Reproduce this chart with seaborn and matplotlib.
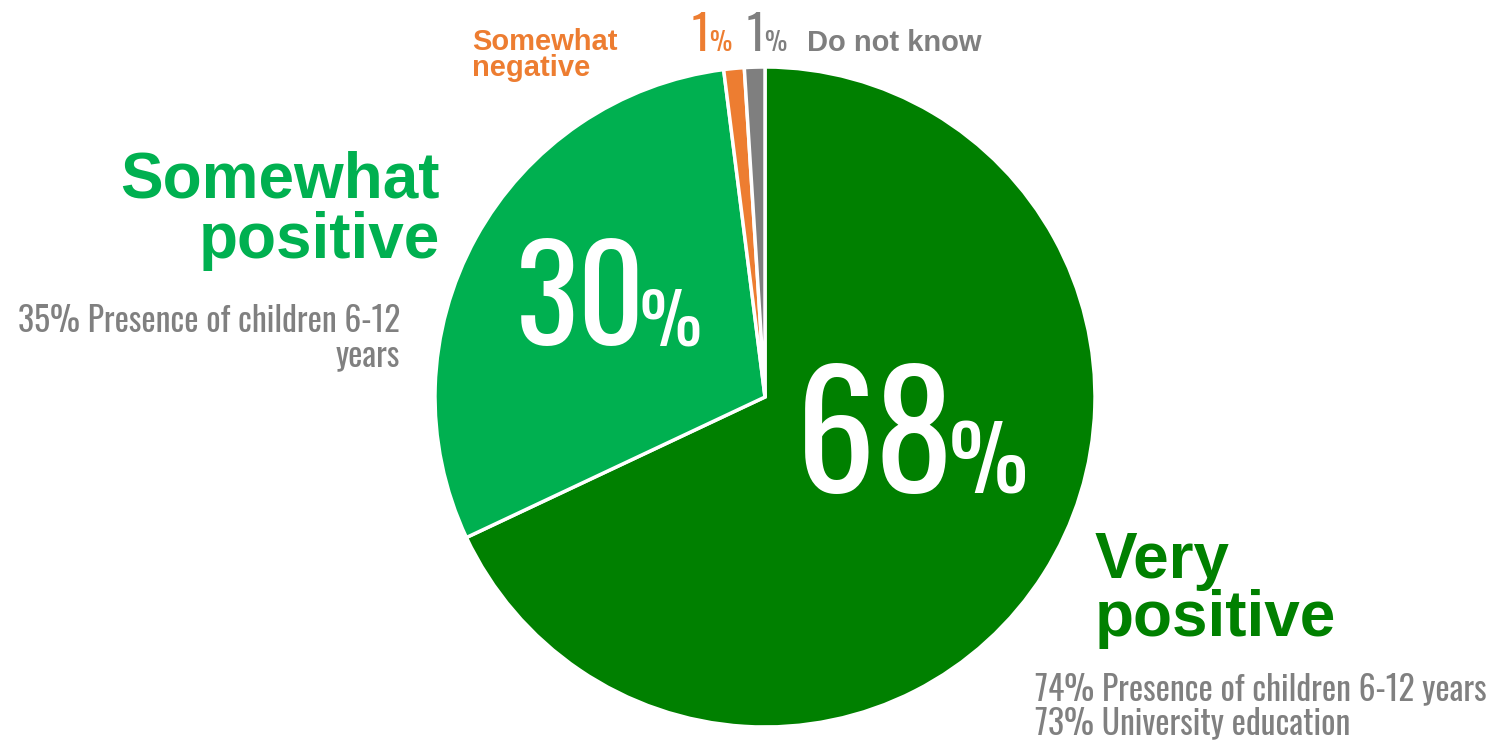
import matplotlib
matplotlib.use("Agg")
import matplotlib.pyplot as plt
from matplotlib import font_manager as fm
from matplotlib.font_manager import FontProperties
import seaborn as sns

# Survey answers, clockwise from 12 o'clock
categories = ["Very positive", "Somewhat positive", "Somewhat negative", "Do not know"]
shares = [68, 30, 1, 1]
colors = ["#008000", "#00b050", "#ed7d31", "#7f7f7f"]
notes_very = ["74% Presence of children 6-12 years", "73% University education"]
notes_somewhat = ["35% Presence of children 6-12", "years"]

sns.set_theme(style="white")
plt.rcParams["font.family"] = ["Liberation Sans", "DejaVu Sans"]


def narrow_font():
    """Pick a tall, narrow face for the figures and the profile notes."""
    entries = fm.fontManager.ttflist
    for fam in ["Oswald", "Archivo Narrow", "Roboto Condensed", "Liberation Sans Narrow"]:
        hits = [f for f in entries if f.name == fam and f.style == "normal"]
        if hits:
            hits.sort(key=lambda f: abs((f.weight if isinstance(f.weight, int) else 400) - 400))
            return FontProperties(fname=hits[0].fname)
    for f in entries:
        if "condensed" in f.fname.lower() and f.style == "normal":
            return FontProperties(fname=f.fname)
    return FontProperties(family="DejaVu Sans")


fp_base = narrow_font()


def fp(size):
    p = fp_base.copy()
    p.set_size(size)
    return p


W, H = 1498, 743
fig = plt.figure(figsize=(W / 100, H / 100), dpi=100)
ax = fig.add_axes([0, 0, 1, 1])

ax.pie(shares, colors=colors, startangle=90, counterclock=False,
       radius=330, center=(765, H - 397),
       wedgeprops=dict(edgecolor="white", linewidth=2.5))
ax.set_xlim(0, W)
ax.set_ylim(0, H)
ax.set_aspect("equal")
ax.axis("off")


def Y(p):
    return H - p


# Big in-slice percentages: figure plus a smaller percent sign on the same baseline
ax.text(646, Y(345), f"{shares[1]}", color="white", ha="right", va="baseline", fontproperties=fp(94))
ax.text(640, Y(345), "%", color="white", ha="left", va="baseline", fontproperties=fp(50))

ax.text(954, Y(493), f"{shares[0]}", color="white", ha="right", va="baseline", fontproperties=fp(114))
ax.text(949, Y(493), "%", color="white", ha="left", va="baseline", fontproperties=fp(64))

# Small slices: figure outside the pie
for x1, val, col in [(709, shares[2], colors[2]), (764, shares[3], colors[3])]:
    ax.text(x1, Y(51), f"{val}", color=col, ha="right", va="baseline", fontproperties=fp(34))
    ax.text(x1, Y(51), "%", color=col, ha="left", va="baseline", fontproperties=fp(18))

# Category names
ax.text(440, Y(197), "Somewhat", color=colors[1], ha="right", va="baseline",
        fontsize=46, fontweight="bold")
ax.text(440, Y(258), "positive", color=colors[1], ha="right", va="baseline",
        fontsize=46, fontweight="bold")
ax.text(1095, Y(578), "Very", color=colors[0], ha="left", va="baseline",
        fontsize=46, fontweight="bold")
ax.text(1095, Y(636), "positive", color=colors[0], ha="left", va="baseline",
        fontsize=46, fontweight="bold")
ax.text(472, Y(50), "Somewhat", color=colors[2], ha="left", va="baseline",
        fontsize=21, fontweight="bold")
ax.text(472, Y(76), "negative", color=colors[2], ha="left", va="baseline",
        fontsize=21, fontweight="bold")
ax.text(807, Y(51), "Do not know", color=colors[3], ha="left", va="baseline",
        fontsize=21, fontweight="bold")

# Profile notes
note_color = "#808080"
ax.text(400, Y(332), notes_somewhat[0], color=note_color, ha="right", va="baseline", fontproperties=fp(24.2))
ax.text(400, Y(366), notes_somewhat[1], color=note_color, ha="right", va="baseline", fontproperties=fp(24.2))
ax.text(1035, Y(700), notes_very[0], color=note_color, ha="left", va="baseline", fontproperties=fp(24.2))
ax.text(1035, Y(734), notes_very[1], color=note_color, ha="left", va="baseline", fontproperties=fp(24.2))

fig.savefig("out.png", dpi=100)
